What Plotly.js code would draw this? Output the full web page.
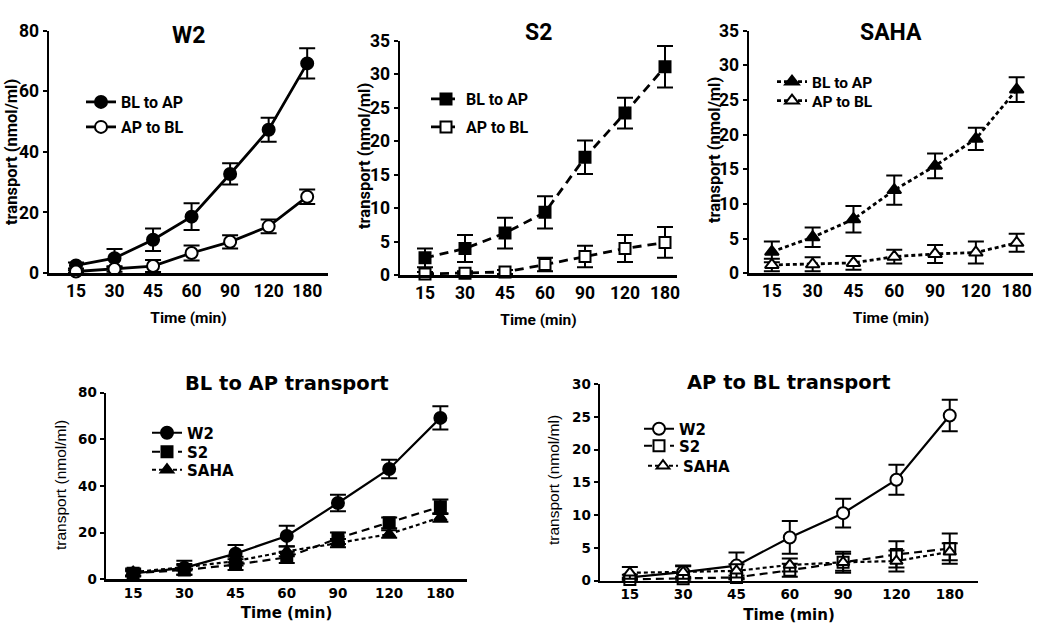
<!DOCTYPE html>
<html>
<head>
<meta charset="utf-8">
<script src="https://cdn.plot.ly/plotly-3.0.1.min.js"></script>
<style>html,body{margin:0;padding:0;background:#fff;}#chart{width:1050px;height:639px;}</style>
</head>
<body>
<div id="chart"></div>
<script>
// ---- data ----
const times = ['15', '30', '45', '60', '90', '120', '180'];

const w2BL = [2.5, 4.9, 11.0, 18.6, 32.7, 47.3, 69.2];
const w2BLerr = [1.0, 3.0, 3.7, 4.4, 3.5, 4.0, 5.0];
const w2AP = [0.5, 1.3, 2.3, 6.6, 10.3, 15.4, 25.2];
const w2APerr = [0.4, 0.9, 2.0, 2.5, 2.2, 2.3, 2.4];

const s2BL = [2.6, 4.0, 6.3, 9.4, 17.6, 24.2, 31.1];
const s2BLerr = [1.4, 2.0, 2.3, 2.4, 2.5, 2.3, 3.1];
const s2AP = [0.2, 0.3, 0.5, 1.6, 2.8, 4.0, 4.9];
const s2APerr = [0.3, 0.3, 0.3, 1.0, 1.6, 2.0, 2.3];

const sahaBL = [3.1, 5.2, 7.8, 12.0, 15.5, 19.4, 26.5];
const sahaBLerr = [1.5, 1.4, 1.9, 2.1, 1.8, 1.6, 1.8];
const sahaAP = [1.2, 1.3, 1.5, 2.4, 2.8, 3.0, 4.4];
const sahaAPerr = [0.9, 1.0, 1.0, 1.0, 1.3, 1.6, 1.3];

const sigW2 = ['', '', '*', '*', '*', '*', '*'];
const sigS2 = ['', '*', '*', '*', '*', '*', '*'];
const sigSAHA = ['', '*', '*', '*', '*', '*', '*'];
const sigBL = ['', '', '', '', '‡', '‡', '‡'];
const sigAP = ['', '', '', '‡', '‡', '‡', '‡'];

// ---- styling ----
const NARROW = 'Roboto, "Liberation Sans", Arial, sans-serif';
const WIDE = '"DejaVu Sans", Verdana, sans-serif';
const PLAIN = '"Liberation Sans", Arial, sans-serif';

const W = 1050, H = 639;
const px = v => v / W, py = v => 1 - v / H;

const layout = {
  width: W, height: H, margin: {l: 0, r: 0, t: 0, b: 0},
  paper_bgcolor: '#fff', plot_bgcolor: 'rgba(0,0,0,0)',
  showlegend: true, annotations: [],
  font: {family: NARROW, color: '#000'}
};

let legendCount = 0;
function addLegend(mx, my, font, size) {
  legendCount += 1;
  const key = legendCount === 1 ? 'legend' : 'legend' + legendCount;
  layout[key] = {x: px(mx - 19), y: py(my), xanchor: 'left', yanchor: 'middle',
    bgcolor: 'rgba(0,0,0,0)', itemwidth: 30,
    font: {family: font, size: size, color: '#000', weight: 'bold'}};
  return key;
}

function tr(name, y, err, ax, legendPos, lfont, lsize, symbol, open, dash, lw, msize) {
  return {
    type: 'scatter', mode: 'lines+markers', name: name,
    x: times, y: y,
    xaxis: 'x' + ax, yaxis: 'y' + ax,
    legend: addLegend(legendPos[0], legendPos[1], lfont, lsize),
    line: {color: '#000', width: lw, dash: dash},
    marker: {symbol: symbol, size: msize, color: open ? '#fff' : '#000',
             line: {color: '#000', width: 2}},
    error_y: {type: 'data', array: err, visible: true, color: '#000', thickness: 2, width: 8},
    cliponaxis: false
  };
}

const traces = [
  tr('BL to AP', w2BL, w2BLerr, '', [100, 102], NARROW, 16, 'circle', false, 'solid', 2.8, 12),
  tr('AP to BL', w2AP, w2APerr, '', [100, 127], NARROW, 16, 'circle', true, 'solid', 2.8, 12),
  tr('BL to AP', s2BL, s2BLerr, '2', [445, 99], NARROW, 16, 'square', false, '9px,6px', 2.8, 11),
  tr('AP to BL', s2AP, s2APerr, '2', [445, 127], NARROW, 16, 'square', true, '9px,6px', 2.8, 11),
  tr('BL to AP', sahaBL, sahaBLerr, '3', [791, 82], NARROW, 15.5, 'triangle-up', false, '4px,3px', 2.8, 12),
  tr('AP to BL', sahaAP, sahaAPerr, '3', [791, 101], NARROW, 15.5, 'triangle-up', true, '4px,3px', 2.8, 12),
  tr('W2', w2BL, w2BLerr, '4', [166, 433], WIDE, 15, 'circle', false, 'solid', 2.2, 12),
  tr('S2', s2BL, s2BLerr, '4', [166, 452], WIDE, 15, 'square', false, '8px,5px', 2.2, 11),
  tr('SAHA', sahaBL, sahaBLerr, '4', [166, 470], WIDE, 15, 'triangle-up', false, '4px,3px', 2.2, 11),
  tr('W2', w2AP, w2APerr, '5', [658, 429], WIDE, 15, 'circle', true, 'solid', 2.2, 12),
  tr('S2', s2AP, s2APerr, '5', [658, 446], WIDE, 15, 'square', true, '8px,5px', 2.2, 11),
  tr('SAHA', sahaAP, sahaAPerr, '5', [662, 466], WIDE, 15, 'triangle-up', true, '4px,3px', 2.2, 11)
];

function xax(l, r, range, font, size, title, ax) {
  return {domain: [px(l), px(r)], type: 'category', categoryarray: times, range: range,
    anchor: 'y' + ax, title: title,
    showline: true, linewidth: 2.5, linecolor: '#000', ticks: '', showgrid: false, zeroline: false,
    tickfont: {family: font, size: size, color: '#000', weight: 'bold'}, fixedrange: true};
}
function yax(t, b, range, dtick, font, size, ax) {
  return {domain: [py(b), py(t)], range: range, dtick: dtick, anchor: 'x' + ax,
    showline: true, linewidth: 2.5, linecolor: '#000', ticks: 'outside', ticklen: 4, tickwidth: 2,
    tickcolor: '#000', showgrid: false, zeroline: false,
    tickfont: {family: font, size: size, color: '#000', weight: 'bold'}, fixedrange: true};
}

const topXT = {text: 'Time (min)', font: {family: NARROW, size: 15.5, color: '#000', weight: 'bold'}, standoff: 13};
const botXT = {text: 'Time (min)', font: {family: WIDE, size: 15, color: '#000', weight: 'bold'}, standoff: 8};

layout.xaxis = xax(49, 328, [-0.7, 6.54], NARROW, 17.5, topXT, '');
layout.yaxis = yax(30.7, 273, [0, 80], 20, NARROW, 17.5, '');
layout.xaxis2 = xax(400, 677, [-0.625, 6.3], NARROW, 17.5, topXT, '2');
layout.yaxis2 = yax(40.7, 275.3, [0, 35], 5, NARROW, 17.5, '2');
layout.xaxis3 = xax(749, 1033, [-0.56, 6.4], NARROW, 17.5, topXT, '3');
layout.yaxis3 = yax(30.7, 273.3, [0, 35], 5, NARROW, 17.5, '3');
layout.xaxis4 = xax(106, 467, [-0.53, 6.52], WIDE, 13.5, botXT, '4');
layout.yaxis4 = yax(392.7, 579.3, [0, 80], 20, WIDE, 13.5, '4');
layout.xaxis5 = xax(600, 978, [-0.56, 6.53], WIDE, 13.5, botXT, '5');
layout.yaxis5 = yax(384, 580.7, [0, 30], 5, WIDE, 13.5, '5');

function titleAnn(text, ax, yPx, font, size) {
  const d = layout['xaxis' + ax].domain;
  return {text: text, xref: 'paper', yref: 'paper', x: (d[0] + d[1]) / 2, y: py(yPx),
    showarrow: false, xanchor: 'center', yanchor: 'middle',
    font: {family: font, size: size, color: '#000', weight: 'bold'}};
}
layout.annotations.push(titleAnn('W2', '', 35, NARROW, 23));
layout.annotations.push(titleAnn('S2', '2', 33, NARROW, 23));
layout.annotations.push(titleAnn('SAHA', '3', 33, NARROW, 23));
layout.annotations.push(titleAnn('BL to AP transport', '4', 383, WIDE, 19.5));
layout.annotations.push(titleAnn('AP to BL transport', '5', 382, WIDE, 19.5));

const yTitle = 'transport (nmol/ml)';
function yTitleAnn(xPx, yPx, font, size, weight) {
  return {text: yTitle, xref: 'paper', yref: 'paper', x: px(xPx), y: py(yPx), textangle: -90,
    showarrow: false, xanchor: 'center', yanchor: 'middle',
    font: {family: font, size: size, color: '#000', weight: weight}};
}
layout.annotations.push(yTitleAnn(11, 152, NARROW, 16.5, 'bold'));
layout.annotations.push(yTitleAnn(365, 156, NARROW, 16.5, 'bold'));
layout.annotations.push(yTitleAnn(714, 150, NARROW, 16.5, 'bold'));
layout.annotations.push(yTitleAnn(60, 485, PLAIN, 15.5, 'normal'));
layout.annotations.push(yTitleAnn(553, 480, PLAIN, 15.5, 'normal'));

function sig(marks, vals, errs, ax) {
  marks.forEach((m, i) => {
    if (!m) return;
    layout.annotations.push({text: m, x: times[i], y: vals[i] + errs[i],
      xref: 'x' + ax, yref: 'y' + ax, showarrow: false, yanchor: 'bottom', yshift: 5,
      font: {family: PLAIN, size: 13, color: '#000'}});
  });
}
sig(sigW2, w2BL, w2BLerr, '');
sig(sigS2, s2BL, s2BLerr, '2');
sig(sigSAHA, sahaBL, sahaBLerr, '3');
sig(sigBL, w2BL, w2BLerr, '4');
sig(sigAP, w2AP, w2APerr, '5');

Plotly.newPlot('chart', traces, layout, {displayModeBar: false, staticPlot: true});
</script>
</body>
</html>
